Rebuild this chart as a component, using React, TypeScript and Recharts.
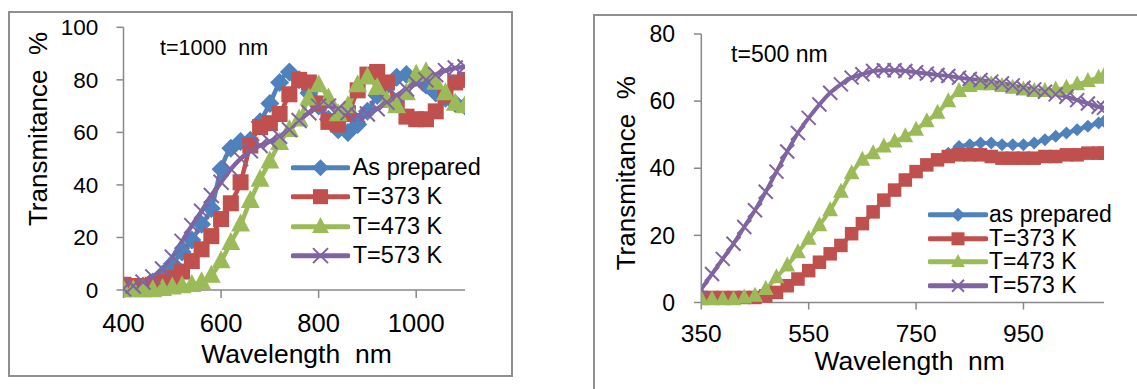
import { LineChart, Line, XAxis, YAxis, Legend } from "recharts";

const FONT = "'Liberation Sans', Arial, Helvetica, sans-serif";
const AXIS_GRAY = "#898989";
const BORDER_GRAY = "#8f8f8f";

const BLUE = "#4F81BD";
const RED = "#C0504D";
const GREEN = "#9BBB59";
const PURPLE = "#8064A2";

/* ---------------------------- t = 1000 nm film ---------------------------- */

const wl1000 = [
  400, 420, 440, 460, 480, 500, 520, 540, 560, 580, 600, 620, 640, 660, 680, 700, 720, 740,
  760, 780, 800, 820, 840, 860, 880, 900, 920, 940, 960, 980, 1000, 1020, 1040, 1060, 1080, 1100,
];
const asPrepared1000 = [
  0.5, 1, 1.5, 3, 6, 10, 14.5, 19, 25, 31, 46, 54, 56.5, 57, 64, 71, 79, 83,
  80, 75, 70, 65, 61, 60, 63, 68, 74, 78, 81, 82, 81, 78, 75, 73, 71, 70,
];
const k373_1000 = [
  2, 1.5, 1.5, 2, 3, 4.5, 7, 11, 15.5, 20.5, 27, 33, 41, 55, 62, 63.5, 67, 74.5,
  80, 79, 71, 64, 63, 67, 76, 82, 83, 79, 71, 66, 65, 65, 68, 74, 79, 80,
];
const k473_1000 = [
  0, 0, 0, 0, 0.5, 1, 1.5, 2, 3, 5.5, 11, 18, 25, 34, 42, 49, 56, 61,
  65, 73, 78, 73, 67, 70, 78, 81, 77, 72, 70, 75, 82, 83, 79, 75, 71, 70,
];
const k573_1000 = [
  0.5, 1.5, 3, 5, 8, 12.5, 18.5, 24.5, 30, 36, 41, 46, 50, 53, 55, 56.5, 58.5, 61,
  64.5, 67.5, 70, 70, 69, 67.5, 66.5, 67, 69, 71.5, 74, 76.5, 78.5, 80, 82, 83.5, 84.5, 85,
];
const xTicks1000 = [400, 600, 800, 1000];
const yTicks1000 = [0, 20, 40, 60, 80, 100];

/* ---------------------------- t = 500 nm film ----------------------------- */

const wl500 = [
  350, 370, 390, 410, 430, 450, 470, 490, 510, 530, 550, 570, 590, 610, 630, 650, 670, 690,
  710, 730, 750, 770, 790, 810, 830, 850, 870, 890, 910, 930, 950, 970, 990, 1010, 1030,
  1050, 1070, 1090, 1100,
];
// hidden under the T=373 K squares until ~800 nm
const asPrepared500 = [
  1.5, 1.5, 1.5, 1.5, 1.5, 1.5, 2, 3, 5, 7, 9.5, 12, 14.5, 17, 20.5, 23.5, 27, 30.5,
  33.5, 36.5, 39, 41, 42.5, 44.5, 46.5, 47, 47.5, 47.5, 47, 47, 47, 47.5, 48.5, 49.5, 50.5,
  51.5, 52.5, 53.5, 54,
];
const k373_500 = [
  1.5, 1.5, 1.5, 1.5, 1.5, 1.5, 2, 3, 5, 7, 9.5, 12, 14.5, 17, 20.5, 23.5, 27, 30.5,
  33.5, 36.5, 39, 41, 42.5, 43.5, 44, 44, 44, 43.5, 43, 43, 43, 43, 43.5, 43.5, 44,
  44, 44.5, 44.5, 44.5,
];
const k473_500 = [
  1, 1, 1, 1, 1.5, 2, 4, 7.5, 11, 15, 19, 23, 27.5, 33, 38.5, 42.5, 44.5, 46.5,
  48, 49.5, 51.5, 54, 56.5, 60, 63, 64.5, 65, 65, 64.5, 64, 63.5, 63, 63, 63.5, 64,
  65, 66, 67, 67.5,
];
const k573_500 = [
  4, 8.5, 13, 17.5, 22.5, 27.5, 33, 39, 45, 50.5, 55, 59, 62.5, 65, 67, 68, 69, 69.2,
  69.2, 69, 68.6, 68.2, 67.8, 67.5, 67, 66.6, 66.3, 65.8, 65.3, 64.7, 64, 63.5, 62.8, 62, 61.3,
  60.3, 59.3, 58.3, 58,
];
const xTicks500 = [350, 550, 750, 950];
const yTicks500 = [0, 20, 40, 60, 80];

/* -------------------------------- Series ---------------------------------- */

type Shape = "diamond" | "square" | "triangle" | "cross";

interface SeriesDef {
  key: string;
  name: string;
  color: string;
  shape: Shape;
}

const series1000: SeriesDef[] = [
  { key: "asPrepared", name: "As prepared", color: BLUE, shape: "diamond" },
  { key: "k373", name: "T=373 K", color: RED, shape: "square" },
  { key: "k473", name: "T=473 K", color: GREEN, shape: "triangle" },
  { key: "k573", name: "T=573 K", color: PURPLE, shape: "cross" },
];

const series500: SeriesDef[] = [
  { key: "asPrepared", name: "as prepared", color: BLUE, shape: "diamond" },
  { key: "k373", name: "T=373 K", color: RED, shape: "square" },
  { key: "k473", name: "T=473 K", color: GREEN, shape: "triangle" },
  { key: "k573", name: "T=573 K", color: PURPLE, shape: "cross" },
];

function buildRows(wl: number[], a: number[], b: number[], c: number[], d: number[]) {
  return wl.map((w, i) => ({ wl: w, asPrepared: a[i], k373: b[i], k473: c[i], k573: d[i] }));
}

const rows1000 = buildRows(wl1000, asPrepared1000, k373_1000, k473_1000, k573_1000);
const rows500 = buildRows(wl500, asPrepared500, k373_500, k473_500, k573_500);

/* -------------------------------- Markers --------------------------------- */

function Marker({ cx, cy, shape, color, size }: { cx: number; cy: number; shape: Shape; color: string; size: number }) {
  const h = size / 2;
  if (shape === "diamond") {
    return <polygon points={`${cx},${cy - h} ${cx + h},${cy} ${cx},${cy + h} ${cx - h},${cy}`} fill={color} />;
  }
  if (shape === "square") {
    return <rect x={cx - h} y={cy - h} width={size} height={size} fill={color} />;
  }
  if (shape === "triangle") {
    const w = size * 1.05;
    return (
      <polygon
        points={`${cx},${cy - size * 0.6} ${cx + w / 2},${cy + size * 0.4} ${cx - w / 2},${cy + size * 0.4}`}
        fill={color}
      />
    );
  }
  return (
    <g stroke={color} strokeWidth={2}>
      <line x1={cx - h} y1={cy - h} x2={cx + h} y2={cy + h} />
      <line x1={cx - h} y1={cy + h} x2={cx + h} y2={cy - h} />
    </g>
  );
}

const makeDot = (shape: Shape, color: string, size: number) => (p: any) => {
  if (p.cx == null || p.cy == null) return <g key={`m-${p.index}`} />;
  return <Marker key={`m-${p.index}`} cx={p.cx} cy={p.cy} shape={shape} color={color} size={size} />;
};

/* --------------------------------- Legend --------------------------------- */

function LegendBox({
  items,
  rowH,
  fontSize,
  sampleW,
  gap,
  markerSize,
}: {
  items: SeriesDef[];
  rowH: number;
  fontSize: number;
  sampleW: number;
  gap: number;
  markerSize: Record<Shape, number>;
}) {
  return (
    <div style={{ fontFamily: FONT, fontSize, lineHeight: `${rowH}px`, color: "#000" }}>
      {items.map((s) => (
        <div key={s.key} style={{ display: "flex", alignItems: "center", height: rowH, whiteSpace: "nowrap" }}>
          <svg width={sampleW + 4} height={rowH} style={{ display: "block", flex: "none" }}>
            <line x1={2} x2={sampleW + 2} y1={rowH / 2} y2={rowH / 2} stroke={s.color} strokeWidth={5} strokeLinecap="round" />
            <Marker cx={sampleW / 2 + 2} cy={rowH / 2} shape={s.shape} color={s.color} size={markerSize[s.shape]} />
          </svg>
          <span style={{ marginLeft: gap }}>{s.name}</span>
        </div>
      ))}
    </div>
  );
}

/* ---------------------------------- Panel --------------------------------- */

interface PanelProps {
  pageLeft: number;
  width: number;
  height: number;
  margin: { top: number; right: number; bottom: number; left: number };
  rows: Array<Record<string, number>>;
  series: SeriesDef[];
  xDomain: [number, number];
  xTicks: number[];
  yDomain: [number, number];
  yTicks: number[];
  xTickFont: number;
  yTickFont: number;
  xTickSize: number;
  yTickSize: number;
  xTickMargin: number;
  yTickMargin: number;
  lineWidth: number;
  markerSize: Record<Shape, number>;
  legend: { left: number; top: number; rowH: number; fontSize: number; sampleW: number; gap: number; markerSize: Record<Shape, number> };
  yTitle: { x: number; y: number; size: number };
  xTitle: { x: number; y: number; size: number };
  note: { text: string; x: number; y: number; size: number };
}

function Panel(p: PanelProps) {
  const axisStroke = { stroke: AXIS_GRAY, strokeWidth: 1.5 };
  return (
    <div style={{ position: "absolute", left: p.pageLeft, top: 0 }}>
      <LineChart width={p.width} height={p.height} data={p.rows} margin={p.margin}>
        <XAxis
          dataKey="wl"
          type="number"
          domain={p.xDomain}
          ticks={p.xTicks}
          interval={0}
          height={60}
          axisLine={axisStroke}
          tickLine={axisStroke}
          tickSize={p.xTickSize}
          tickMargin={p.xTickMargin}
          tick={{ fontSize: p.xTickFont, fill: "#000", fontFamily: FONT }}
          allowDataOverflow
        />
        <YAxis
          type="number"
          domain={p.yDomain}
          ticks={p.yTicks}
          interval={0}
          width={60}
          axisLine={axisStroke}
          tickLine={axisStroke}
          tickSize={p.yTickSize}
          tickMargin={p.yTickMargin}
          tick={{ fontSize: p.yTickFont, fill: "#000", fontFamily: FONT }}
        />
        {p.series.map((s) => (
          <Line
            key={s.key}
            dataKey={s.key}
            name={s.name}
            type="monotone"
            stroke={s.color}
            strokeWidth={p.lineWidth}
            dot={makeDot(s.shape, s.color, p.markerSize[s.shape])}
            activeDot={false}
            isAnimationActive={false}
          />
        ))}
        <Legend
          layout="vertical"
          align="center"
          verticalAlign="middle"
          wrapperStyle={{ left: p.legend.left, top: p.legend.top, right: "auto", bottom: "auto", width: 240, height: "auto" }}
          content={() => (
            <LegendBox
              items={p.series}
              rowH={p.legend.rowH}
              fontSize={p.legend.fontSize}
              sampleW={p.legend.sampleW}
              gap={p.legend.gap}
              markerSize={p.legend.markerSize}
            />
          )}
        />
        <text
          x={p.yTitle.x}
          y={p.yTitle.y}
          transform={`rotate(-90 ${p.yTitle.x} ${p.yTitle.y})`}
          textAnchor="middle"
          fontFamily={FONT}
          fontSize={p.yTitle.size}
          fill="#000"
          style={{ whiteSpace: "pre" }}
        >
          Transmitance  %
        </text>
        <text
          x={p.xTitle.x}
          y={p.xTitle.y}
          textAnchor="middle"
          fontFamily={FONT}
          fontSize={p.xTitle.size}
          fill="#000"
          style={{ whiteSpace: "pre" }}
        >
          Wavelength  nm
        </text>
        <text x={p.note.x} y={p.note.y} fontFamily={FONT} fontSize={p.note.size} fill="#000" style={{ whiteSpace: "pre" }}>
          {p.note.text}
        </text>
      </LineChart>
    </div>
  );
}

export default function App() {
  return (
    <div style={{ position: "absolute", left: 0, top: 0, width: 1137, height: 389, overflow: "hidden", background: "#fff" }}>
      <div style={{ position: "absolute", left: 8, top: 11, width: 501, height: 362, border: `2px solid ${BORDER_GRAY}` }} />
      <div style={{ position: "absolute", left: 593, top: 14, width: 600, height: 420, border: `2px solid ${BORDER_GRAY}` }} />

      <Panel
        pageLeft={0}
        width={560}
        height={389}
        margin={{ top: 27.3, right: 95, bottom: 39, left: 63.5 }}
        rows={rows1000}
        series={series1000}
        xDomain={[400, 1100]}
        xTicks={xTicks1000}
        yDomain={[0, 100]}
        yTicks={yTicks1000}
        xTickFont={25.5}
        yTickFont={22.5}
        xTickSize={8}
        yTickSize={7}
        xTickMargin={15.6}
        yTickMargin={18.2}
        lineWidth={4.5}
        markerSize={{ diamond: 19, square: 16, triangle: 18, cross: 15 }}
        legend={{ left: 291, top: 153, rowH: 29.3, fontSize: 23.5, sampleW: 55, gap: 2.7, markerSize: { diamond: 17, square: 15, triangle: 16, cross: 15 } }}
        yTitle={{ x: 47, y: 129, size: 26 }}
        xTitle={{ x: 296.5, y: 363.3, size: 26.5 }}
        note={{ text: "t=1000  nm", x: 160, y: 55, size: 21.5 }}
      />

      <Panel
        pageLeft={580}
        width={557}
        height={389}
        margin={{ top: 34, right: 33, bottom: 26.5, left: 61.3 }}
        rows={rows500}
        series={series500}
        xDomain={[350, 1100]}
        xTicks={xTicks500}
        yDomain={[0, 80]}
        yTicks={yTicks500}
        xTickFont={24.5}
        yTickFont={23}
        xTickSize={7}
        yTickSize={7.4}
        xTickMargin={14.7}
        yTickMargin={18.9}
        lineWidth={4}
        markerSize={{ diamond: 13, square: 13.5, triangle: 15, cross: 14 }}
        legend={{ left: 348, top: 203.2, rowH: 23.6, fontSize: 23, sampleW: 56, gap: 1, markerSize: { diamond: 14, square: 13, triangle: 13, cross: 12 } }}
        yTitle={{ x: 55, y: 173.3, size: 26 }}
        xTitle={{ x: 329.7, y: 370, size: 26.5 }}
        note={{ text: "t=500 nm", x: 151.1, y: 61.7, size: 23 }}
      />
    </div>
  );
}
